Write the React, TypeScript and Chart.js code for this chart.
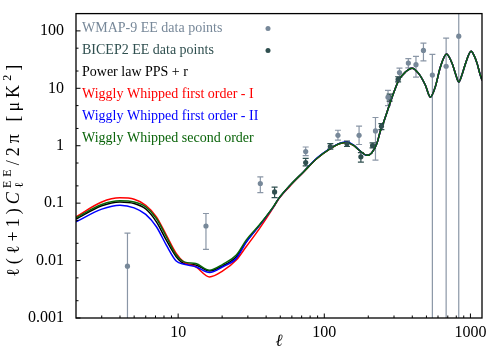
import React, { useEffect, useRef } from "react";
import { Chart, registerables } from "chart.js";
Chart.register(...registerables);

const FONT = "'Liberation Serif', 'DejaVu Serif', serif";

// Curve sampling multipoles
const curveEll = [2, 3, 4, 5, 6, 7.1, 8.3, 9.7, 11, 13.2, 16.4, 20.2, 25, 29.2, 36, 45, 48.7, 58.4, 72, 89, 110, 128, 143, 158, 176, 195, 211, 229, 242, 255, 270, 291, 323, 359, 399, 443, 492, 532, 575, 623, 686, 750, 790, 832, 880, 925, 1011, 1060, 1112, 1160, 1200];

const powerLaw = [0.0527, 0.09, 0.105, 0.0987, 0.079, 0.0473, 0.0227, 0.0117, 0.0089, 0.0084, 0.0066, 0.0081, 0.0117, 0.0212, 0.041, 0.087, 0.12, 0.205, 0.35, 0.6, 0.89, 1.09, 1.14, 1.02, 0.81, 0.68, 0.75, 1.09, 1.8, 2.6, 4.0, 7.0, 13.8, 19.2, 22.4, 18, 11.3, 7.0, 10.6, 23.5, 39.5, 27, 18, 12.9, 18, 26.9, 44, 37, 26.9, 18, 13.8];
const wigglyFirstI = [0.0578, 0.105, 0.124, 0.117, 0.092, 0.0578, 0.0278, 0.0133, 0.0093, 0.0078, 0.0052, 0.0066, 0.0102, 0.0174, 0.036, 0.085, 0.118, 0.2, 0.345, 0.6, 0.89, 1.09, 1.14, 1.02, 0.81, 0.68, 0.75, 1.09, 1.8, 2.6, 4.0, 7.0, 13.8, 19.2, 22.4, 18, 11.3, 7.0, 10.6, 23.5, 39.5, 27, 18, 12.9, 18, 26.9, 44, 37, 26.9, 18, 13.8];
const wigglyFirstII = [0.0473, 0.0786, 0.0923, 0.0829, 0.0636, 0.0388, 0.0186, 0.0098, 0.0086, 0.0078, 0.0062, 0.0078, 0.0109, 0.0207, 0.041, 0.087, 0.12, 0.205, 0.35, 0.61, 0.9, 1.11, 1.16, 1.04, 0.81, 0.68, 0.75, 1.09, 1.8, 2.6, 4.0, 7.0, 13.8, 19.2, 22.4, 18, 11.3, 7.0, 10.6, 23.5, 39.5, 27, 18, 12.9, 18, 26.9, 44, 37, 26.9, 18, 13.8];
const wigglySecond = [0.0556, 0.0948, 0.11, 0.105, 0.0864, 0.0541, 0.026, 0.0125, 0.0095, 0.0089, 0.0068, 0.0086, 0.0125, 0.0227, 0.042, 0.088, 0.12, 0.205, 0.35, 0.6, 0.89, 1.09, 1.14, 1.02, 0.81, 0.68, 0.75, 1.09, 1.8, 2.6, 4.0, 7.0, 13.8, 19.2, 22.4, 18, 11.3, 7.0, 10.6, 23.5, 39.5, 27, 18, 12.9, 18, 26.9, 44, 37, 26.9, 18, 13.8];

// WMAP-9 EE band powers
const wmapEll = [4.5, 15.5, 36.5, 74.6, 124, 173, 224, 273, 327, 376, 424, 477, 549, 682, 832];
const wmapVal = [0.008, 0.04, 0.22, 0.79, 1.52, 1.52, 1.81, 7.0, 18.8, 27.5, 25.8, 45.7, 17, 24.2, 81];
const wmapLow = [0.0001, 0.0157, 0.153, 0.67, 1.25, 1.05, 0.56, 5.0, 15.7, 22.6, 15.7, 30, 0.0001, 0.0001, 0.0001];
const wmapHigh = [0.03, 0.066, 0.287, 0.95, 1.86, 2.2, 3.1, 9.2, 22.4, 33, 36, 61, 39, 75, 10000];

// BICEP2 EE band powers
const bicepEll = [45.7, 74.6, 110, 143, 178, 214, 246, 280, 320];
const bicepVal = [0.157, 0.51, 0.97, 1.08, 0.64, 1.01, 2.18, 6.9, 14.3];
const bicepLow = [0.125, 0.445, 0.87, 0.97, 0.52, 0.915, 1.91, 6.0, 12.9];
const bicepHigh = [0.19, 0.6, 1.09, 1.2, 0.76, 1.12, 2.43, 7.9, 15.9];

const xTickValues = [10, 100, 1000];
const xTickLabels = ["10", "100", "1000"];
const xMinorTicks = [3, 4, 5, 6, 7, 8, 9, 20, 30, 40, 50, 60, 70, 80, 90, 200, 300, 400, 500, 600, 700, 800, 900];
const yTickValues = [0.001, 0.01, 0.1, 1, 10, 100];
const yTickLabels = ["0.001", "0.01", "0.1", "1", "10", "100"];
const yMinorTicks = [0.002, 0.005, 0.02, 0.05, 0.2, 0.5, 2, 5, 20, 50];

const legendLabels = [
  "WMAP-9 EE data points",
  "BICEP2 EE data points",
  "Power law PPS + r",
  "Wiggly Whipped first order - I",
  "Wiggly Whipped first order - II",
  "Wiggly Whipped second order",
];

const WMAP_C = "#778899";
const WMAP_BAR = "#8a96a6";
const BICEP_C = "#2f4f4f";
const BLACK = "#000000";
const RED = "#ff0000";
const BLUE = "#0000ff";
const GREEN = "#0a640a";
const legendColors = [WMAP_C, BICEP_C, BLACK, RED, BLUE, GREEN];

const decorPlugin = {
  id: "decor",
  beforeDatasetsDraw(chart: any) {
    const { ctx, chartArea } = chart;
    const xs = chart.scales.x;
    const ys = chart.scales.y;
    ctx.save();
    ctx.beginPath();
    ctx.rect(chartArea.left, chartArea.top, chartArea.right - chartArea.left, chartArea.bottom - chartArea.top);
    ctx.clip();
    const drawBars = (ell: number[], lo: number[], hi: number[], color: string) => {
      ctx.strokeStyle = color;
      ctx.lineWidth = 1.2;
      for (let i = 0; i < ell.length; i++) {
        const x = xs.getPixelForValue(ell[i]);
        const y1 = ys.getPixelForValue(lo[i]);
        const y2 = ys.getPixelForValue(hi[i]);
        ctx.beginPath();
        ctx.moveTo(x, y1);
        ctx.lineTo(x, y2);
        ctx.moveTo(x - 3, y1);
        ctx.lineTo(x + 3, y1);
        ctx.moveTo(x - 3, y2);
        ctx.lineTo(x + 3, y2);
        ctx.stroke();
      }
    };
    drawBars(wmapEll, wmapLow, wmapHigh, WMAP_BAR);
    drawBars(bicepEll, bicepLow, bicepHigh, BICEP_C);
    ctx.restore();
  },
  afterDraw(chart: any) {
    const { ctx, chartArea } = chart;
    const xs = chart.scales.x;
    const ys = chart.scales.y;
    const { left, right, top, bottom } = chartArea;
    ctx.save();
    // frame
    ctx.strokeStyle = "#000";
    ctx.lineWidth = 1.3;
    ctx.strokeRect(left, top, right - left, bottom - top);
    // ticks (inward)
    ctx.lineWidth = 1;
    ctx.beginPath();
    xTickValues.forEach((v) => {
      const x = xs.getPixelForValue(v);
      ctx.moveTo(x, bottom);
      ctx.lineTo(x, bottom - 4.5);
    });
    xMinorTicks.forEach((v) => {
      const x = xs.getPixelForValue(v);
      ctx.moveTo(x, bottom);
      ctx.lineTo(x, bottom - 2.5);
    });
    yTickValues.forEach((v) => {
      const y = ys.getPixelForValue(v);
      ctx.moveTo(left, y);
      ctx.lineTo(left + 4.5, y);
    });
    yMinorTicks.forEach((v) => {
      const y = ys.getPixelForValue(v);
      ctx.moveTo(left, y);
      ctx.lineTo(left + 2.5, y);
    });
    ctx.stroke();

    // legend
    ctx.font = `14px ${FONT}`;
    ctx.textBaseline = "middle";
    ctx.textAlign = "left";
    legendLabels.forEach((t, i) => {
      const y = top + 15 + i * 22;
      ctx.fillStyle = legendColors[i];
      ctx.fillText(t, left + 6, y);
      if (i < 2) {
        ctx.beginPath();
        ctx.arc(left + 192, y, 2.5, 0, Math.PI * 2);
        ctx.fill();
      }
    });

    // y title
    type G = { ch: string; font: string; dy: number; adv: boolean };
    const main = `18px ${FONT}`;
    const mainI = `italic 18px ${FONT}`;
    const small = `12px ${FONT}`;
    const glyphs: G[] = [];
    const push = (s: string, font: string, dy = 0) => {
      for (const ch of Array.from(s)) glyphs.push({ ch, font, dy, adv: true });
    };
    push("ℓ(ℓ+1)", main);
    push("C", mainI);
    glyphs.push({ ch: "ℓ", font: small, dy: 4, adv: false });
    push("EE", small, -8);
    push("/2π [μK", main);
    push("2", small, -8);
    push("]", main);
    let natural = 0;
    const widths = glyphs.map((g) => {
      ctx.font = g.font;
      const w = ctx.measureText(g.ch).width;
      if (g.adv) natural += w;
      return w;
    });
    const target = 212;
    const gaps = glyphs.filter((g) => g.adv).length - 1;
    const extra = Math.max(0, (target - natural) / gaps);
    ctx.translate(19, (top + bottom) / 2 + 5);
    ctx.rotate(-Math.PI / 2);
    ctx.textBaseline = "alphabetic";
    ctx.fillStyle = "#000";
    let cx = -(natural + extra * gaps) / 2;
    glyphs.forEach((g, i) => {
      ctx.font = g.font;
      ctx.fillText(g.ch, cx, g.dy);
      if (g.adv) cx += widths[i] + extra;
    });
    ctx.restore();
  },
};

const pts = (xs: number[], ys: number[]) => xs.map((x, i) => ({ x, y: ys[i] }));

export default function App() {
  const ref = useRef<HTMLCanvasElement>(null);
  useEffect(() => {
    const canvas = ref.current!;
    const curve = (label: string, data: number[], color: string) => ({
      label,
      data: pts(curveEll, data),
      borderColor: color,
      backgroundColor: color,
      borderWidth: 1.5,
      pointRadius: 0,
      cubicInterpolationMode: "monotone" as const,
      fill: false,
    });
    const chart = new Chart(canvas, {
      type: "line",
      data: {
        datasets: [
          {
            label: legendLabels[0],
            data: pts(wmapEll, wmapVal),
            showLine: false,
            pointRadius: 2.6,
            pointBorderWidth: 0,
            pointBackgroundColor: WMAP_C,
            borderColor: WMAP_C,
          },
          {
            label: legendLabels[1],
            data: pts(bicepEll, bicepVal),
            showLine: false,
            pointRadius: 2.6,
            pointBorderWidth: 0,
            pointBackgroundColor: BICEP_C,
            borderColor: BICEP_C,
          },
          curve(legendLabels[5], wigglySecond, GREEN),
          curve(legendLabels[4], wigglyFirstII, BLUE),
          curve(legendLabels[3], wigglyFirstI, RED),
          curve(legendLabels[2], powerLaw, BLACK),
        ] as any,
      },
      options: {
        animation: false,
        responsive: true,
        maintainAspectRatio: false,
        layout: { padding: { left: 0, top: 12, right: 18, bottom: 0 } },
        plugins: { legend: { display: false }, tooltip: { enabled: false } },
        scales: {
          x: {
            type: "logarithmic",
            min: 2,
            max: 1200,
            grid: { display: false },
            border: { display: false },
            afterBuildTicks: (s: any) => {
              s.ticks = xTickValues.map((v) => ({ value: v }));
            },
            ticks: {
              autoSkip: false,
              maxRotation: 0,
              padding: -3,
              color: "#000",
              font: { family: FONT, size: 16 },
              callback: (v: any) => {
                const i = xTickValues.indexOf(Number(v));
                return i >= 0 ? xTickLabels[i] : "";
              },
            },
            title: {
              display: true,
              text: "ℓ",
              color: "#000",
              font: { family: FONT, size: 17, style: "italic", lineHeight: 1 },
              padding: { top: 0, bottom: 0 },
            },
            afterFit: (s: any) => {
              s.height = 32;
            },
          },
          y: {
            type: "logarithmic",
            min: 0.001,
            max: 200,
            grid: { display: false },
            border: { display: false },
            afterBuildTicks: (s: any) => {
              s.ticks = yTickValues.map((v) => ({ value: v }));
            },
            ticks: {
              autoSkip: false,
              padding: 4,
              color: "#000",
              font: { family: FONT, size: 16 },
              callback: (v: any) => {
                const i = yTickValues.indexOf(Number(v));
                return i >= 0 ? yTickLabels[i] : "";
              },
            },
            afterFit: (s: any) => {
              s.width = 76;
            },
          },
        },
      } as any,
      plugins: [decorPlugin],
    });
    return () => chart.destroy();
  }, []);
  return (
    <div style={{ position: "absolute", left: 0, top: 0, width: 500, height: 350, background: "#fff" }}>
      <canvas ref={ref} />
    </div>
  );
}
